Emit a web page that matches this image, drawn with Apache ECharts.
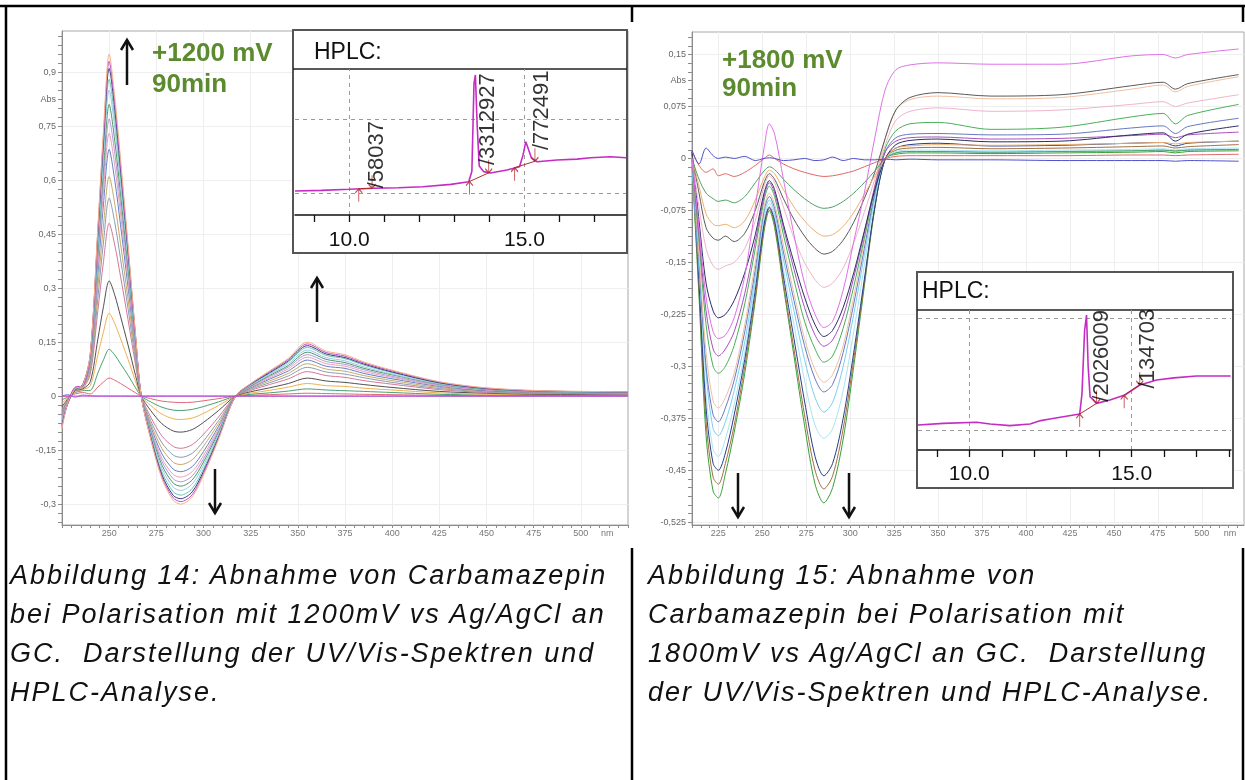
<!DOCTYPE html>
<html><head><meta charset="utf-8">
<script src="https://cdn.jsdelivr.net/npm/echarts@6.0.0/dist/echarts.min.js"></script>
<style>
html,body{margin:0;padding:0;background:#fff;}
#wrap{position:relative;width:1245px;height:780px;overflow:hidden;background:#fff;}
#chart{position:absolute;left:0;top:0;width:1245px;height:780px;}
.cap{position:absolute;font-family:"Liberation Sans",Arial,sans-serif;font-style:italic;font-size:27px;letter-spacing:2px;line-height:39px;color:#111;white-space:pre;}
</style></head>
<body><div id="wrap"><div id="chart"></div>
<div class="cap" id="capL" style="left:10px;top:556px;"></div>
<div class="cap" id="capR" style="left:648px;top:556px;"></div>
</div>
<script>
// ================= DATA =================
// ---- Left panel: UV/Vis difference spectra, +1200 mV ----
const WL_L = [225, 228, 232, 236, 240, 244, 247, 250, 253, 256, 260, 264, 267, 272, 278, 284, 288, 294, 300, 308, 317, 325, 335, 345, 355, 365, 375, 385, 400, 425, 450, 480, 525];
const L_C1  = [-0.09, -0.02, 0.02, 0.03, 0.12, 0.47, 0.74, 0.95, 0.83, 0.66, 0.42, 0.17, 0.0, -0.12, -0.23, -0.29, -0.30, -0.28, -0.22, -0.12, 0.0, 0.035, 0.07, 0.105, 0.15, 0.125, 0.115, 0.095, 0.072, 0.04, 0.023, 0.015, 0.012];
const L_C2  = [-0.085, -0.018, 0.025, 0.028, 0.117, 0.46, 0.725, 0.93, 0.813, 0.646, 0.411, 0.166, 0.0, -0.117, -0.225, -0.283, -0.293, -0.274, -0.215, -0.117, 0.0, 0.034, 0.068, 0.102, 0.145, 0.121, 0.111, 0.092, 0.07, 0.039, 0.022, 0.014, 0.012];
const L_C3  = [-0.08, -0.022, 0.018, 0.032, 0.115, 0.45, 0.709, 0.91, 0.795, 0.632, 0.402, 0.163, 0.0, -0.114, -0.219, -0.276, -0.285, -0.266, -0.209, -0.114, 0.0, 0.033, 0.065, 0.098, 0.14, 0.117, 0.107, 0.089, 0.067, 0.037, 0.021, 0.014, 0.011];
const L_C4  = [-0.078, -0.019, 0.022, 0.026, 0.111, 0.435, 0.685, 0.88, 0.769, 0.611, 0.389, 0.157, 0.0, -0.11, -0.211, -0.266, -0.275, -0.257, -0.202, -0.11, 0.0, 0.032, 0.063, 0.095, 0.135, 0.113, 0.104, 0.086, 0.065, 0.036, 0.021, 0.014, 0.011];
const L_C5  = [-0.075, -0.017, 0.02, 0.03, 0.107, 0.42, 0.662, 0.85, 0.743, 0.591, 0.376, 0.152, 0.0, -0.105, -0.201, -0.253, -0.262, -0.244, -0.192, -0.105, 0.0, 0.03, 0.06, 0.09, 0.128, 0.107, 0.098, 0.081, 0.061, 0.034, 0.02, 0.013, 0.01];
const L_C6  = [-0.07, -0.021, 0.024, 0.027, 0.102, 0.401, 0.631, 0.81, 0.708, 0.563, 0.358, 0.145, 0.0, -0.1, -0.192, -0.242, -0.25, -0.233, -0.183, -0.1, 0.0, 0.028, 0.057, 0.085, 0.122, 0.102, 0.093, 0.077, 0.059, 0.033, 0.019, 0.012, 0.01];
const L_C7  = [-0.065, -0.016, 0.019, 0.029, 0.097, 0.381, 0.6, 0.77, 0.673, 0.535, 0.341, 0.138, 0.0, -0.095, -0.182, -0.23, -0.238, -0.222, -0.174, -0.095, 0.0, 0.027, 0.054, 0.081, 0.115, 0.096, 0.088, 0.073, 0.055, 0.031, 0.018, 0.012, 0.009];
const L_C8  = [-0.06, -0.015, 0.021, 0.025, 0.092, 0.361, 0.568, 0.73, 0.638, 0.507, 0.323, 0.131, 0.0, -0.09, -0.173, -0.218, -0.225, -0.21, -0.165, -0.09, 0.0, 0.025, 0.05, 0.076, 0.108, 0.09, 0.083, 0.068, 0.052, 0.029, 0.017, 0.011, 0.009];
const L_C9  = [-0.055, -0.014, 0.017, 0.028, 0.087, 0.339, 0.534, 0.685, 0.598, 0.476, 0.303, 0.123, 0.0, -0.084, -0.161, -0.203, -0.21, -0.196, -0.154, -0.084, 0.0, 0.023, 0.047, 0.07, 0.1, 0.083, 0.077, 0.063, 0.048, 0.027, 0.015, 0.01, 0.008];
const L_C10 = [-0.05, -0.012, 0.02, 0.024, 0.077, 0.302, 0.475, 0.61, 0.533, 0.424, 0.27, 0.109, 0.0, -0.076, -0.146, -0.184, -0.19, -0.177, -0.139, -0.076, 0.0, 0.021, 0.042, 0.063, 0.09, 0.075, 0.069, 0.057, 0.043, 0.024, 0.014, 0.009, 0.007];
const L_C11 = [-0.045, -0.011, 0.016, 0.026, 0.069, 0.272, 0.428, 0.55, 0.481, 0.382, 0.243, 0.098, 0.0, -0.068, -0.13, -0.164, -0.17, -0.159, -0.125, -0.068, 0.0, 0.019, 0.037, 0.056, 0.08, 0.067, 0.061, 0.051, 0.038, 0.021, 0.012, 0.008, 0.006];
const L_C12 = [-0.04, -0.01, 0.018, 0.022, 0.061, 0.237, 0.374, 0.48, 0.419, 0.333, 0.212, 0.086, 0.0, -0.058, -0.111, -0.14, -0.145, -0.135, -0.106, -0.058, 0.0, 0.016, 0.032, 0.048, 0.068, 0.057, 0.052, 0.043, 0.033, 0.018, 0.01, 0.007, 0.005];
const L_C13 = [-0.03, -0.008, 0.015, 0.02, 0.04, 0.158, 0.249, 0.32, 0.28, 0.222, 0.142, 0.057, 0.0, -0.04, -0.077, -0.097, -0.1, -0.093, -0.073, -0.04, 0.0, 0.012, 0.023, 0.035, 0.05, 0.042, 0.038, 0.032, 0.024, 0.013, 0.008, 0.005, 0.004];
const L_C14 = [-0.02, -0.005, 0.012, 0.018, 0.029, 0.114, 0.179, 0.23, 0.201, 0.16, 0.102, 0.041, 0.0, -0.026, -0.05, -0.063, -0.065, -0.061, -0.048, -0.026, 0.0, 0.008, 0.016, 0.025, 0.035, 0.029, 0.027, 0.022, 0.017, 0.009, 0.005, 0.004, 0.003];
const L_C15 = [-0.01, -0.003, 0.01, 0.015, 0.016, 0.064, 0.101, 0.13, 0.114, 0.09, 0.058, 0.023, 0.0, -0.016, -0.031, -0.039, -0.04, -0.037, -0.029, -0.016, 0.0, 0.005, 0.009, 0.014, 0.02, 0.017, 0.015, 0.013, 0.01, 0.005, 0.003, 0.002, 0.002];
const L_C16 = [0.0, 0.0, 0.006, 0.01, 0.006, 0.025, 0.039, 0.05, 0.044, 0.035, 0.022, 0.009, 0.0, -0.007, -0.014, -0.017, -0.018, -0.017, -0.013, -0.007, 0.0, 0.002, 0.004, 0.006, 0.008, 0.007, 0.006, 0.005, 0.004, 0.002, 0.001, 0.001, 0.001];
const L_ZERO_A = [0.0, 0.004, -0.003, 0.003, 0.001, 0, 0, 0, 0, 0, 0, 0, 0, 0, 0, 0, 0, 0, 0, 0, 0, 0, 0, 0, 0, 0, 0, 0, 0, 0, 0, 0, 0];
const L_ZERO_B = [0.0, 0.0, 0.0, 0.0, 0.0, 0, 0, 0, 0, 0, 0, 0, 0, 0, 0, 0, 0, 0, 0, 0, 0, 0, 0, 0, 0, 0, 0, 0, 0, 0, 0, 0, 0];

// ---- Right panel: UV/Vis difference spectra, +1800 mV ----
const WL_R = [210, 214, 218, 222, 225, 229, 234, 240, 246, 251, 254, 257, 262, 268, 274, 280, 285, 290, 296, 302, 308, 314, 320, 326, 334, 350, 380, 420, 460, 478, 485, 492, 521];
const R_C0  = [0.012, -0.008, 0.015, 0.004, 0.0, 0.002, 0.0, 0.003, -0.003, 0.0, 0.001, 0.0, -0.003, -0.002, 0.0, -0.003, -0.002, 0.002, -0.003, 0.0, -0.002, -0.002, -0.001, -0.002, -0.001, -0.002, -0.002, -0.003, -0.003, -0.003, -0.004, -0.003, -0.004];
const R_C1  = [0.01, -0.01, -0.02, -0.015, -0.025, -0.022, -0.026, -0.02, -0.01, 0.0, 0.005, 0.0, -0.008, -0.015, -0.02, -0.024, -0.026, -0.025, -0.022, -0.018, -0.012, -0.006, 0.0, 0.003, 0.004, 0.004, 0.004, 0.004, 0.005, 0.005, 0.004, 0.005, 0.006];
const R_C2  = [0.0, -0.03, -0.05, -0.058, -0.062, -0.06, -0.064, -0.055, -0.035, -0.018, -0.012, -0.016, -0.03, -0.045, -0.058, -0.068, -0.072, -0.07, -0.062, -0.05, -0.035, -0.018, 0.0, 0.008, 0.01, 0.01, 0.009, 0.01, 0.011, 0.012, 0.011, 0.012, 0.013];
const R_C3  = [0.0, -0.04, -0.08, -0.095, -0.097, -0.095, -0.1, -0.09, -0.06, -0.028, -0.017, -0.022, -0.045, -0.07, -0.09, -0.105, -0.112, -0.11, -0.098, -0.078, -0.052, -0.025, 0.0, 0.015, 0.018, 0.02, 0.019, 0.02, 0.022, 0.023, 0.021, 0.023, 0.025];
const R_C4  = [0.005, -0.05, -0.1, -0.115, -0.118, -0.112, -0.12, -0.108, -0.075, -0.035, -0.022, -0.03, -0.058, -0.088, -0.112, -0.13, -0.138, -0.134, -0.118, -0.092, -0.058, -0.02, 0.03, 0.07, 0.088, 0.095, 0.09, 0.092, 0.105, 0.11, 0.1, 0.108, 0.121];
const R_C5  = [0.0, -0.07, -0.13, -0.155, -0.16, -0.155, -0.15, -0.13, -0.09, -0.04, -0.025, -0.035, -0.07, -0.115, -0.15, -0.175, -0.186, -0.18, -0.158, -0.122, -0.078, -0.03, 0.02, 0.055, 0.068, 0.073, 0.068, 0.07, 0.078, 0.082, 0.075, 0.08, 0.092];
const R_C6  = [0.0, -0.1, -0.2, -0.25, -0.26, -0.255, -0.23, -0.17, -0.07, 0.015, 0.05, 0.035, -0.03, -0.11, -0.18, -0.225, -0.244, -0.235, -0.19, -0.12, -0.05, 0.03, 0.1, 0.128, 0.135, 0.138, 0.136, 0.136, 0.148, 0.15, 0.145, 0.15, 0.158];
const R_C7  = [0.01, -0.09, -0.18, -0.22, -0.23, -0.225, -0.205, -0.165, -0.11, -0.05, -0.032, -0.045, -0.095, -0.15, -0.2, -0.24, -0.257, -0.248, -0.215, -0.165, -0.105, -0.045, 0.0, 0.02, 0.026, 0.028, 0.024, 0.025, 0.034, 0.037, 0.025, 0.035, 0.047];
const R_C8  = [0.0, -0.12, -0.24, -0.3, -0.31, -0.3, -0.27, -0.21, -0.13, -0.06, -0.04, -0.055, -0.11, -0.175, -0.235, -0.275, -0.294, -0.285, -0.245, -0.185, -0.115, -0.045, 0.015, 0.04, 0.05, 0.052, 0.042, 0.045, 0.06, 0.065, 0.05, 0.062, 0.078];
const R_C9  = [0.005, -0.14, -0.28, -0.35, -0.36, -0.345, -0.31, -0.24, -0.15, -0.07, -0.05, -0.066, -0.125, -0.195, -0.26, -0.305, -0.323, -0.312, -0.27, -0.2, -0.12, -0.04, 0.03, 0.07, 0.085, 0.09, 0.086, 0.088, 0.1, 0.106, 0.096, 0.104, 0.118];
const R_C10 = [0.0, -0.15, -0.3, -0.37, -0.38, -0.36, -0.32, -0.25, -0.16, -0.075, -0.055, -0.072, -0.135, -0.205, -0.27, -0.318, -0.337, -0.326, -0.28, -0.21, -0.13, -0.05, 0.01, 0.03, 0.035, 0.036, 0.034, 0.035, 0.044, 0.047, 0.036, 0.046, 0.058];
const R_C11 = [-0.01, -0.16, -0.31, -0.39, -0.4, -0.38, -0.335, -0.265, -0.17, -0.08, -0.06, -0.078, -0.145, -0.22, -0.29, -0.345, -0.366, -0.352, -0.3, -0.225, -0.14, -0.055, 0.0, 0.008, 0.01, 0.01, 0.009, 0.01, 0.011, 0.012, 0.01, 0.012, 0.013];
const R_C12 = [0.01, -0.18, -0.36, -0.44, -0.45, -0.425, -0.37, -0.29, -0.19, -0.095, -0.07, -0.09, -0.17, -0.26, -0.35, -0.43, -0.458, -0.44, -0.375, -0.28, -0.175, -0.07, 0.0, 0.015, 0.02, 0.022, 0.018, 0.019, 0.022, 0.023, 0.018, 0.022, 0.025];
const R_C13 = [0.0, -0.19, -0.38, -0.46, -0.47, -0.44, -0.385, -0.3, -0.2, -0.1, -0.072, -0.095, -0.18, -0.275, -0.37, -0.45, -0.477, -0.458, -0.39, -0.29, -0.18, -0.07, 0.0, 0.012, 0.015, 0.016, 0.014, 0.015, 0.017, 0.018, 0.015, 0.017, 0.02];
const R_C14 = [-0.01, -0.2, -0.4, -0.48, -0.49, -0.455, -0.395, -0.31, -0.205, -0.105, -0.075, -0.1, -0.185, -0.285, -0.385, -0.47, -0.497, -0.475, -0.405, -0.3, -0.185, -0.072, 0.0, 0.006, 0.008, 0.008, 0.007, 0.008, 0.009, 0.01, 0.008, 0.01, 0.011];
const R_C15 = [0.0, -0.11, -0.22, -0.275, -0.285, -0.275, -0.25, -0.195, -0.12, -0.055, -0.035, -0.05, -0.1, -0.16, -0.215, -0.255, -0.271, -0.262, -0.228, -0.172, -0.108, -0.04, 0.01, 0.025, 0.03, 0.031, 0.028, 0.029, 0.033, 0.035, 0.03, 0.034, 0.038];
const R_C16 = [0.0, -0.17, -0.34, -0.42, -0.43, -0.405, -0.355, -0.28, -0.18, -0.088, -0.065, -0.084, -0.16, -0.24, -0.32, -0.385, -0.404, -0.39, -0.335, -0.25, -0.155, -0.06, 0.0, 0.01, 0.012, 0.012, 0.011, 0.012, 0.013, 0.014, 0.012, 0.014, 0.015];

// ---- HPLC insets (retention time in min, relative signal) ----
const HPLC_L_T = [8.45, 9.2, 10.0, 10.7, 11.4, 12.1, 12.9, 13.41, 13.5, 13.56, 13.6, 13.65, 13.71, 13.84, 14.03, 14.5, 14.86, 14.96, 15.04, 15.1, 15.2, 15.36, 15.93, 16.5, 16.89, 17.46, 17.9];
const HPLC_L_V = [16.4, 16.9, 17.6, 18.3, 18.7, 19.4, 21.0, 22.8, 30.0, 90.0, 95.9, 62.0, 33.5, 29.7, 28.8, 30.8, 33.0, 41.0, 50.2, 46.0, 39.0, 36.5, 37.7, 38.3, 39.2, 39.9, 39.2];
const HPLC_L_START = [[10.27, 17.9], [13.43, 22.9], [14.72, 32.4]];
const HPLC_L_END   = [[10.65, 18.3], [13.98, 28.9], [15.3, 36.8]];
const HPLC_L_PEAKS = [[10.79, 18.3, '/58037'], [13.97, 34.2, '/3312927'], [15.49, 44.5, '/772491']];

const HPLC_R_T = [8.42, 9.2, 10.23, 10.64, 11.25, 11.87, 12.2, 12.48, 13.4, 13.47, 13.55, 13.61, 13.66, 13.72, 13.92, 14.33, 14.79, 15.25, 15.77, 16.3, 17.0, 18.05];
const HPLC_R_V = [17.9, 19.0, 19.8, 18.6, 17.4, 18.6, 21.0, 22.1, 25.7, 40.0, 85.0, 96.4, 60.0, 38.0, 33.3, 35.7, 39.3, 46.4, 50.0, 51.5, 52.9, 52.9];
const HPLC_R_START = [[13.4, 25.7], [14.77, 39.1]];
const HPLC_R_END   = [[13.92, 33.3], [15.25, 46.4]];
const HPLC_R_PEAKS = [[14.08, 34.5, '/2026009'], [15.51, 44.0, '/134703']];

// ---- tick labels ----
const L_X_LABELS = [250, 275, 300, 325, 350, 375, 400, 425, 450, 475, 500];
const L_Y_LABELS = [-0.3, -0.15, 0, 0.15, 0.3, 0.45, 0.6, 0.75, 0.9];
const R_X_LABELS = [225, 250, 275, 300, 325, 350, 375, 400, 425, 450, 475, 500];
const R_Y_LABELS = [-0.525, -0.45, -0.375, -0.3, -0.225, -0.15, -0.075, 0, 0.075, 0.15];
const L_ABS_AT = 0.825, R_ABS_AT = 0.1125, L_NM_AT = 514, R_NM_AT = 516;
const HPLC_X_LABELS = [10, 15];
const HPLC_L_TICKS = [9, 10, 11, 12, 13, 14, 15, 16, 17];
const HPLC_R_TICKS = [9, 10, 11, 12, 13, 14, 15, 16, 17, 18];
const HPLC_X_GRID = [10, 15];
const HPLC_L_Y_GRID = [14.9, 65.5];
const HPLC_R_Y_GRID = [14.3, 94];

const CAPTION_L = ["Abbildung 14: Abnahme von Carbamazepin", "bei Polarisation mit 1200mV vs Ag/AgCl an", "GC.  Darstellung der UV/Vis-Spektren und", "HPLC-Analyse."];
const CAPTION_R = ["Abbildung 15: Abnahme von", "Carbamazepin bei Polarisation mit", "1800mV vs Ag/AgCl an GC.  Darstellung", "der UV/Vis-Spektren und HPLC-Analyse."];

// ================= STYLE / BUILD =================
document.getElementById('capL').textContent = CAPTION_L.join('\n');
document.getElementById('capR').textContent = CAPTION_R.join('\n');

const FONT = '"Liberation Sans", Arial, sans-serif';
const L_SPECTRA = [L_C16, L_C15, L_C14, L_C13, L_C12, L_C11, L_C10, L_C9, L_C8, L_C7, L_C6, L_C5, L_C4, L_C3, L_C2, L_C1, L_ZERO_A, L_ZERO_B];
const L_COLORS  = ['#e06878', '#48a070', '#f0b050', '#505050', '#d47898', '#8c9cb0', '#c8a868', '#6080c8', '#eaa0bc', '#b898d8', '#4e9868', '#98cce8', '#70c4b8', '#3c3c7c', '#c050c0', '#f4b48c', '#7878e0', '#d040d0'];
const R_SPECTRA = [R_C14, R_C13, R_C16, R_C12, R_C11, R_C10, R_C9, R_C8, R_C15, R_C7, R_C5, R_C4, R_C3, R_C2, R_C1, R_C6, R_C0];
const R_COLORS  = ['#38a038', '#a07040', '#a8e4f4', '#283c88', '#78d0f0', '#6878c0', '#f0c0a0', '#48b058', '#a850c0', '#2c2c64', '#f0b4cc', '#5a5a5a', '#f0b070', '#50a068', '#e06868', '#e070e8', '#5050d0'];

function rng(a, b, step) { const out = []; const n = Math.round((b - a) / step); for (let i = 0; i <= n; i++) out.push(Math.round((a + i * step) * 100000) / 100000); return out; }
function near(a, b) { return Math.abs(a - b) < 1e-6; }
function comma(v) { return String(Math.round(v * 1000) / 1000).replace('.', ','); }
function zip(xs, ys) { return xs.map((x, i) => [x, ys[i]]); }

const axisGray = '#8c8c8c';
function mainX(grid, min, max, ticks, labels, nmAt) {
  return {
    gridIndex: grid, type: 'value', min: min, max: max, position: 'bottom',
    axisLine: { show: true, onZero: false, lineStyle: { color: axisGray, width: 1 } },
    axisTick: { show: true, length: 3, customValues: ticks, lineStyle: { color: axisGray } },
    axisLabel: { customValues: labels.concat([nmAt]), formatter: v => near(v, nmAt) ? 'nm' : String(v), fontSize: 9, color: '#777', margin: 4, fontFamily: FONT },
    splitLine: { show: false }
  };
}
function gridX(grid, min, max, lines) {
  return { gridIndex: grid, type: 'value', min: min, max: max, position: 'top',
    axisLine: { show: false }, axisTick: { show: false, customValues: lines }, axisLabel: { show: false },
    splitLine: { show: true, lineStyle: { color: '#eeeeee', width: 1 } } };
}
function mainY(grid, min, max, ticks, labels, absAt) {
  return {
    gridIndex: grid, type: 'value', min: min, max: max, position: 'left',
    axisLine: { show: true, onZero: false, lineStyle: { color: axisGray, width: 1 } },
    axisTick: { show: true, length: 4, customValues: ticks, lineStyle: { color: axisGray } },
    axisLabel: { customValues: labels.concat([absAt]), formatter: v => near(v, absAt) ? 'Abs' : comma(v), fontSize: 9, color: '#666', margin: 6, fontFamily: FONT },
    splitLine: { show: false }
  };
}
function gridY(grid, min, max, lines) {
  return { gridIndex: grid, type: 'value', min: min, max: max, position: 'right',
    axisLine: { show: false }, axisTick: { show: false, customValues: lines }, axisLabel: { show: false },
    splitLine: { show: true, lineStyle: { color: '#efefef', width: 1 } } };
}
function hplcX(grid, min, max, ticks, margin) {
  return {
    gridIndex: grid, type: 'value', min: min, max: max, z: 6, position: 'bottom',
    axisLine: { show: true, onZero: false, lineStyle: { color: '#111', width: 1.5 } },
    axisTick: { show: true, length: 7, customValues: ticks, lineStyle: { color: '#111', width: 1.3 } },
    axisLabel: { customValues: HPLC_X_LABELS, formatter: v => v.toFixed(1), fontSize: 21, color: '#111', margin: margin, fontFamily: FONT },
    splitLine: { show: false }
  };
}
function hplcY(grid) { return { gridIndex: grid, type: 'value', min: 0, max: 100, show: false }; }

const L_XMIN = 225, L_XMAX = 525, L_YMIN = -0.358, L_YMAX = 1.014;
const R_XMIN = 210, R_XMAX = 524, R_YMIN = -0.529, R_YMAX = 0.1825;

const series = [];
L_SPECTRA.forEach((arr, i) => series.push({
  type: 'line', xAxisIndex: 0, yAxisIndex: 0, data: zip(WL_L, arr), showSymbol: false, smooth: 0.3,
  lineStyle: { width: 1, color: L_COLORS[i] }, z: 2, silent: true
}));
R_SPECTRA.forEach((arr, i) => series.push({
  type: 'line', xAxisIndex: 3, yAxisIndex: 3, data: zip(WL_R, arr), showSymbol: false, smooth: 0.3,
  lineStyle: { width: 1, color: R_COLORS[i] }, z: 2, silent: true
}));

const ARROW_UP = 'path://M5,0 L5,16 M1,5 L5,0 L9,5';
const ARROW_DOWN = 'path://M5,16 L5,0 M1,11 L5,16 L9,11';
function hplcSeries(xi, T, V, yGrid, starts, ends, peaks) {
  series.push({
    type: 'line', xAxisIndex: xi, yAxisIndex: xi, data: zip(T, V), showSymbol: false, smooth: false,
    lineStyle: { width: 1.6, color: '#c42cc4' }, z: 7, silent: true,
    markLine: { silent: true, symbol: 'none', z: 6, label: { show: false },
      lineStyle: { type: [4, 4], color: '#9a9a9a', width: 1 },
      data: HPLC_X_GRID.map(v => ({ xAxis: v })).concat(yGrid.map(v => ({ yAxis: v }))) }
  });
  starts.forEach((s, i) => series.push({
    type: 'line', xAxisIndex: xi, yAxisIndex: xi, data: [s, ends[i]], showSymbol: false,
    lineStyle: { width: 1, color: '#a83030' }, z: 8, silent: true
  }));
  series.push({ type: 'scatter', xAxisIndex: xi, yAxisIndex: xi, data: starts, symbol: ARROW_UP, symbolSize: [7, 13], symbolOffset: [0, 6.5],
    itemStyle: { color: 'rgba(0,0,0,0)', borderColor: '#b02828', borderWidth: 1.2 }, z: 8, silent: true });
  series.push({ type: 'scatter', xAxisIndex: xi, yAxisIndex: xi, data: ends, symbol: ARROW_DOWN, symbolSize: [7, 13], symbolOffset: [0, -6.5],
    itemStyle: { color: 'rgba(0,0,0,0)', borderColor: '#b02828', borderWidth: 1.2 }, z: 8, silent: true });
  series.push({ type: 'scatter', xAxisIndex: xi, yAxisIndex: xi, data: peaks, symbolSize: 1,
    itemStyle: { color: 'rgba(0,0,0,0)' }, z: 9, silent: true,
    label: { show: true, position: 'inside', formatter: p => p.value[2], rotate: 90, align: 'left', verticalAlign: 'middle',
      fontSize: 22, color: '#000', fontFamily: FONT } });
}
hplcSeries(2, HPLC_L_T, HPLC_L_V, HPLC_L_Y_GRID, HPLC_L_START, HPLC_L_END, HPLC_L_PEAKS);
hplcSeries(5, HPLC_R_T, HPLC_R_V, HPLC_R_Y_GRID, HPLC_R_START, HPLC_R_END, HPLC_R_PEAKS);

function arrow(x, y1, y2) { // from y1 (tail) to y2 (head)
  const d = y2 < y1 ? 1 : -1;
  return [
    { type: 'line', shape: { x1: x, y1: y1, x2: x, y2: y2 }, style: { stroke: '#111', lineWidth: 2.5 }, z: 3 },
    { type: 'polyline', shape: { points: [[x - 6, y2 + 10 * d], [x, y2], [x + 6, y2 + 10 * d]] }, style: { stroke: '#111', lineWidth: 2.5, fill: null }, z: 3 }
  ];
}
function bline(x1, y1, x2, y2) { return { type: 'line', shape: { x1, y1, x2, y2 }, style: { stroke: '#000', lineWidth: 2.5 }, z: 20 }; }
const green = '#5c8a2e';
function gtext(x, y, t, font, color, z) { return { type: 'text', x: x, y: y, z: z || 3, style: { text: t, font: font, fill: color, textVerticalAlign: 'middle', verticalAlign: 'middle' } }; }

const graphics = [].concat(
  [bline(0, 6, 1245, 6), bline(6, 5, 6, 780), bline(632, 5, 632, 22), bline(632, 548, 632, 780), bline(1243, 5, 1243, 22), bline(1243, 548, 1243, 780)],
  arrow(127, 85, 40), arrow(317, 322, 278), arrow(215, 469, 513), arrow(738, 473, 517), arrow(849, 473, 517),
  [
    gtext(152, 54, '+1200 mV', 'bold 26px "Liberation Sans", Arial', green),
    gtext(152, 85, '90min', 'bold 26px "Liberation Sans", Arial', green),
    gtext(722, 61, '+1800 mV', 'bold 26px "Liberation Sans", Arial', green),
    gtext(722, 89, '90min', 'bold 26px "Liberation Sans", Arial', green),
    { type: 'rect', shape: { x: 293, y: 30, width: 334, height: 223 }, style: { fill: '#fff', stroke: '#555', lineWidth: 2 }, z: 4 },
    { type: 'line', shape: { x1: 293, y1: 69, x2: 627, y2: 69 }, style: { stroke: '#222', lineWidth: 1.5 }, z: 5 },
    gtext(314, 53, 'HPLC:', '23px "Liberation Sans", Arial', '#111', 6),
    { type: 'rect', shape: { x: 917, y: 272, width: 316, height: 216 }, style: { fill: '#fff', stroke: '#555', lineWidth: 2 }, z: 4 },
    { type: 'line', shape: { x1: 917, y1: 310, x2: 1233, y2: 310 }, style: { stroke: '#222', lineWidth: 1.5 }, z: 5 },
    gtext(922, 292, 'HPLC:', '23px "Liberation Sans", Arial', '#111', 6)
  ]
);

const option = {
  animation: false,
  backgroundColor: '#fff',
  grid: [
    { left: 62, top: 31, width: 566, height: 494, show: true, borderColor: '#a8a8a8', borderWidth: 1, backgroundColor: 'rgba(0,0,0,0)' },
    { left: 295, top: 69, width: 331, height: 146, show: false },
    { left: 692, top: 32, width: 552, height: 493, show: true, borderColor: '#a8a8a8', borderWidth: 1, backgroundColor: 'rgba(0,0,0,0)' },
    { left: 918, top: 310, width: 313, height: 140, show: false }
  ],
  xAxis: [
    mainX(0, L_XMIN, L_XMAX, rng(225, 525, 5), L_X_LABELS, L_NM_AT),
    gridX(0, L_XMIN, L_XMAX, L_X_LABELS),
    hplcX(1, 8.45, 17.9, HPLC_L_TICKS, 15),
    mainX(2, R_XMIN, R_XMAX, rng(210, 520, 5), R_X_LABELS, R_NM_AT),
    gridX(2, R_XMIN, R_XMAX, R_X_LABELS),
    hplcX(3, 8.42, 18.06, HPLC_R_TICKS, 14)
  ],
  yAxis: [
    mainY(0, L_YMIN, L_YMAX, rng(-0.35, 1.0, 0.025), L_Y_LABELS, L_ABS_AT),
    gridY(0, L_YMIN, L_YMAX, L_Y_LABELS),
    hplcY(1),
    mainY(2, R_YMIN, R_YMAX, rng(-0.525, 0.175, 0.0125), R_Y_LABELS, R_ABS_AT),
    gridY(2, R_YMIN, R_YMAX, R_Y_LABELS),
    hplcY(3)
  ],
  series: series,
  graphic: { elements: graphics }
};
const chart = echarts.init(document.getElementById('chart'), null, { renderer: 'canvas' });
chart.setOption(option);
</script>
</body></html>
